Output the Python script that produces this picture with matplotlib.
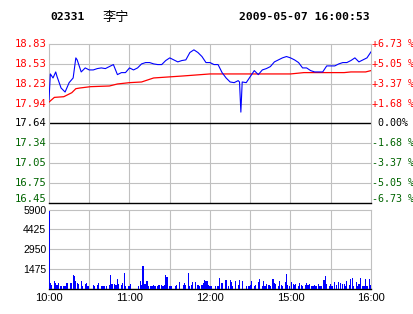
import numpy as np
import matplotlib.pyplot as plt
import matplotlib.transforms as mtransforms

code = "02331"
name = "李宁"
stamp = "2009-05-07 16:00:53"
prev_close = 17.64
pct_levels = [6.73, 5.05, 3.37, 1.68, 0.0, -1.68, -3.37, -5.05, -6.73]
price_labels = ["18.83", "18.53", "18.23", "17.94", "17.64", "17.34", "17.05", "16.75", "16.45"]
time_labels = ["10:00", "11:00", "12:00", "15:00", "16:00"]
vol_ticks = [1475, 2950, 4425, 5900]

# minutes since the open (10:00..12:30, 14:30..16:00 -> 0..240)
price_t = [0, 1, 3, 5, 6, 9, 12, 15, 18, 20, 21, 24, 27, 30, 33, 36, 39, 42, 45, 48,
           51, 54, 57, 60, 63, 66, 69, 72, 75, 78, 81, 84, 87, 90, 93, 96, 99, 102, 105, 108,
           111, 114, 117, 120, 123, 126, 129, 132, 135, 138, 141, 142, 143, 144, 147, 150, 153, 156, 159, 162,
           165, 168, 171, 174, 177, 180, 183, 186, 189, 192, 195, 198, 201, 204, 207, 210, 213, 216, 219, 222,
           225, 228, 231, 234, 237, 240]
price = [17.99, 18.38, 18.32, 18.41, 18.34, 18.17, 18.11, 18.25, 18.32, 18.62, 18.59, 18.41, 18.47, 18.44, 18.44, 18.46, 18.47, 18.46, 18.49, 18.52,
         18.37, 18.40, 18.40, 18.47, 18.44, 18.47, 18.53, 18.55, 18.55, 18.53, 18.52, 18.52, 18.58, 18.62, 18.59, 18.56, 18.58, 18.59, 18.70, 18.74,
         18.70, 18.64, 18.55, 18.55, 18.52, 18.52, 18.40, 18.32, 18.26, 18.25, 18.28, 18.26, 17.81, 18.26, 18.25, 18.34, 18.43, 18.37, 18.44, 18.46,
         18.49, 18.56, 18.59, 18.62, 18.64, 18.62, 18.59, 18.55, 18.47, 18.47, 18.43, 18.41, 18.41, 18.41, 18.50, 18.50, 18.50, 18.53, 18.55, 18.55,
         18.58, 18.62, 18.56, 18.59, 18.62, 18.71]

avg_t = [0, 4, 11, 17, 20, 23, 31, 45, 51, 60, 69, 78, 100, 120, 180, 190, 220, 225, 236, 240]
avg = [17.96, 18.03, 18.04, 18.10, 18.16, 18.17, 18.19, 18.20, 18.23, 18.25, 18.26, 18.32, 18.35, 18.38, 18.38, 18.40, 18.40, 18.41, 18.41, 18.43]

vol_t = [0, 1, 2, 4, 5, 6, 7, 9, 11, 12, 13, 14, 16, 17, 18, 19, 20, 21, 22, 24,
         25, 27, 28, 29, 33, 34, 36, 37, 39, 40, 41, 43, 45, 46, 47, 49, 50, 51, 52, 54,
         55, 56, 57, 59, 60, 61, 67, 68, 69, 70, 71, 72, 73, 74, 76, 77, 78, 79, 81, 82,
         84, 85, 86, 87, 88, 90, 91, 94, 95, 97, 100, 101, 102, 104, 105, 106, 107, 109, 111, 112,
         114, 115, 116, 117, 118, 119, 120, 121, 124, 126, 127, 129, 132, 134, 135, 136, 137, 139, 141, 142,
         144, 147, 149, 150, 151, 153, 154, 156, 157, 159, 160, 161, 162, 164, 165, 167, 168, 169, 171, 172,
         173, 174, 176, 177, 178, 179, 181, 182, 183, 184, 186, 187, 188, 189, 191, 192, 193, 194, 196, 197,
         198, 199, 201, 202, 203, 205, 206, 207, 209, 210, 211, 213, 214, 216, 217, 219, 220, 221, 222, 224,
         225, 226, 227, 229, 230, 231, 232, 234, 235, 236, 237, 239, 240]
vol = [5800, 380, 250, 550, 380, 250, 380, 150, 175, 175, 380, 380, 380, 420, 1000, 950, 550, 420, 330, 550,
       175, 330, 380, 150, 250, 150, 250, 380, 175, 175, 175, 175, 250, 1000, 330, 330, 250, 700, 330, 250,
       380, 1130, 175, 175, 175, 330, 175, 550, 250, 1690, 330, 330, 550, 175, 175, 175, 250, 175, 175, 250,
       250, 175, 250, 1000, 880, 175, 175, 175, 250, 500, 250, 380, 250, 1130, 175, 250, 500, 450, 250, 175,
       250, 380, 630, 550, 550, 250, 175, 175, 175, 175, 750, 380, 630, 175, 630, 500, 175, 550, 250, 630,
       550, 175, 175, 250, 550, 175, 250, 450, 700, 175, 550, 175, 330, 250, 175, 700, 380, 330, 175, 550,
       250, 175, 450, 1080, 250, 175, 450, 330, 250, 330, 175, 380, 250, 175, 250, 380, 250, 330, 175, 175,
       250, 175, 330, 175, 175, 630, 930, 330, 175, 330, 175, 450, 250, 450, 430, 330, 330, 175, 550, 250,
       700, 750, 175, 450, 175, 330, 750, 175, 175, 700, 175, 700, 250]

W, H = 414, 314
fig = plt.figure(figsize=(W / 100, H / 100), dpi=100)
fig.patch.set_facecolor('white')

left, right = 49 / W, 371 / W
ax = fig.add_axes([left, 1 - 203 / H, right - left, (203 - 44) / H])
axv = fig.add_axes([left, 1 - 288.5 / H, right - left, (288.5 - 209.5) / H])

grid_c = '#c0c0c0'
red = '#ff0000'
green = '#006400'
mono = 'DejaVu Sans Mono'
glw = 0.8

levels = [prev_close * (1 + p / 100) for p in pct_levels]

# price panel
for t in range(30, 240, 30):
    ax.axvline(t, color=grid_c, lw=glw, zorder=1)
for lv in levels[1:-1]:
    if lv == prev_close:
        ax.axhline(lv, color='black', lw=1.0, zorder=2)
    else:
        ax.axhline(lv, color=grid_c, lw=glw, zorder=1)
ax.plot(avg_t, avg, color=red, lw=0.9, zorder=3)
ax.plot(price_t, price, color='blue', lw=0.8, zorder=4)
ax.set_xlim(0, 240)
ax.set_ylim(levels[-1], levels[0])
ax.set_xticks([])
ax.set_yticks([])
for s in ['left', 'top', 'right']:
    ax.spines[s].set_color(grid_c)
    ax.spines[s].set_linewidth(glw)
ax.spines['bottom'].set_color('black')
ax.spines['bottom'].set_linewidth(1.0)

trans_l = mtransforms.blended_transform_factory(ax.transAxes, ax.transData)
for i, (lv, lab, p) in enumerate(zip(levels, price_labels, pct_levels)):
    c = red if p > 0 else ('black' if p == 0 else green)
    tr = trans_l
    if i == len(levels) - 1:
        tr = trans_l + mtransforms.ScaledTranslation(0, 4 / 100, fig.dpi_scale_trans)
    ax.text(-0.006, lv, lab, transform=tr, ha='right', va='center',
            color=c, fontsize=7.6, family=mono)
    if p > 0:
        rlab = "+%.2f %%" % p
    elif p == 0:
        rlab = " 0.00%"
    else:
        rlab = "-%.2f %%" % abs(p)
    ax.text(1.002, lv, rlab, transform=tr, ha='left', va='center',
            color=c, fontsize=7.2, family=mono)

# volume panel
for t in range(30, 240, 30):
    axv.axvline(t, color=grid_c, lw=glw, zorder=1)
for v in vol_ticks[:-1]:
    axv.axhline(v, color=grid_c, lw=glw, zorder=1)
axv.bar(vol_t, vol, width=0.9, color='blue', align='center', zorder=3, linewidth=0)
axv.set_xlim(0, 240)
axv.set_ylim(0, 5900)
axv.set_yticks(vol_ticks)
axv.set_yticklabels([str(v) for v in vol_ticks], fontsize=7.5, family='Liberation Sans')
for lab in axv.get_yticklabels():
    lab.set_transform(lab.get_transform() + mtransforms.ScaledTranslation(0, -2.5 / 100, fig.dpi_scale_trans))
axv.set_xticks([0, 60, 120, 180, 240])
axv.set_xticklabels(time_labels, fontsize=8, family='Liberation Sans')
axv.tick_params(length=0, pad=2)
axv.tick_params(axis='x', pad=3)
for s in ['left', 'top', 'right']:
    axv.spines[s].set_color(grid_c)
    axv.spines[s].set_linewidth(glw)
axv.spines['bottom'].set_color('black')
axv.spines['bottom'].set_linewidth(1.0)

# header
fig.text(50 / W, 1 - 17 / H, code, ha='left', va='center', fontsize=8.2,
         family=mono, weight='bold')
fig.text(103 / W, 1 - 17 / H, name, ha='left', va='center', fontsize=9.5,
         family=['Noto Sans CJK SC', 'DejaVu Sans'])
fig.text(370 / W, 1 - 17 / H, stamp, ha='right', va='center', fontsize=8.2,
         family=mono, weight='bold')

fig.savefig('out.png', dpi=100)
